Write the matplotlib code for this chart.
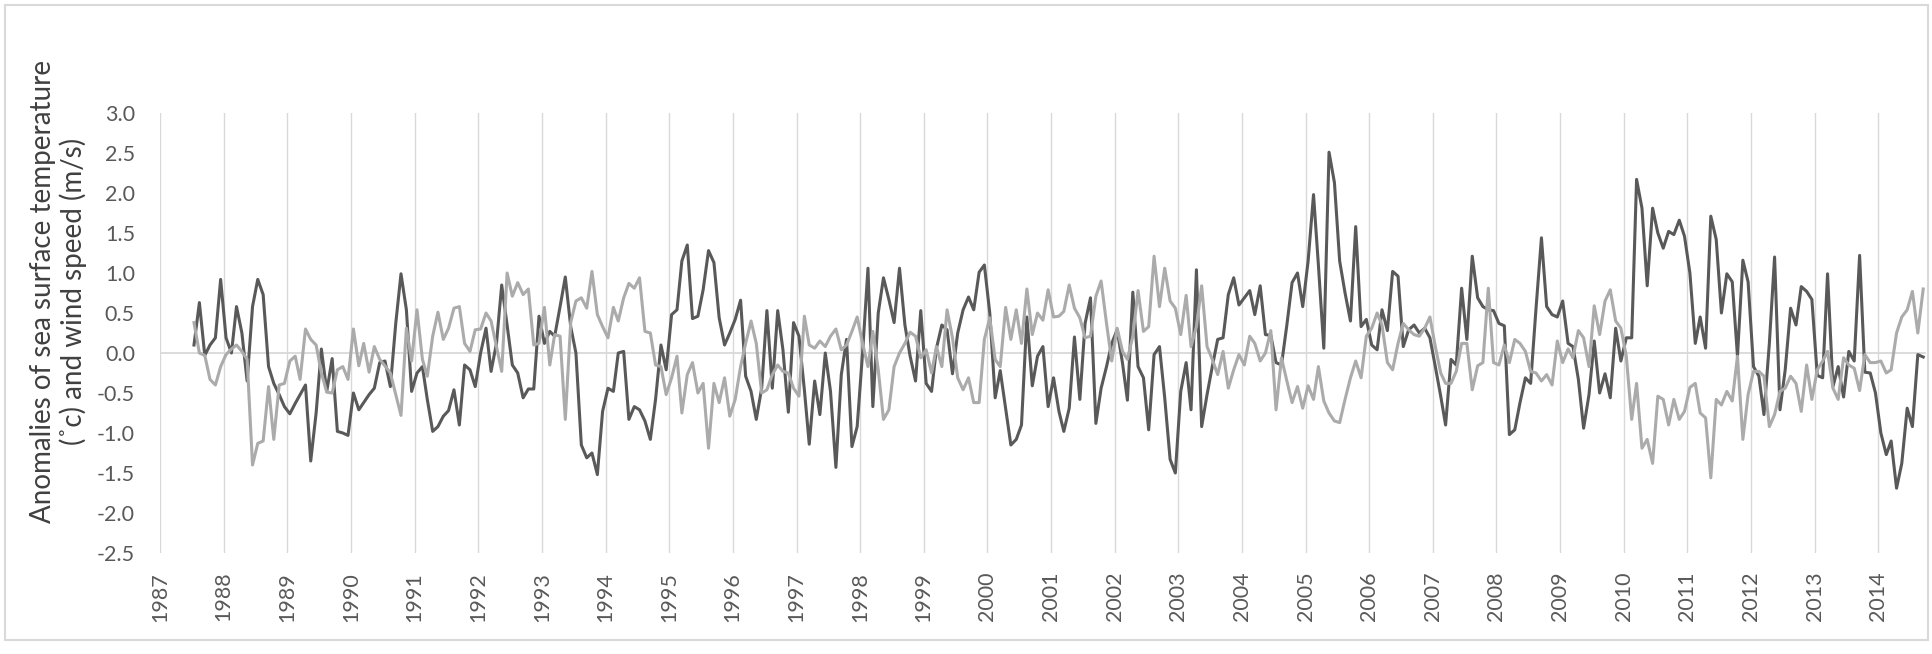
import pandas as pd
import matplotlib
matplotlib.use("Agg")
import matplotlib.pyplot as plt
import matplotlib.dates as mdates
from datetime import datetime

plt.rcParams['font.family'] = ['Lato', 'DejaVu Sans']

# monthly anomalies, Jul 1987 - Sep 2014
sst = [
    0.10, 0.63, -0.03, 0.10, 0.19, 0.92, 0.19, 0.00, 0.58, 0.25,
    -0.35, 0.58, 0.92, 0.73, -0.17, -0.38, -0.52, -0.67, -0.76, -0.63,
    -0.52, -0.40, -1.35, -0.75, 0.05, -0.48, -0.07, -0.98, -1.00, -1.03,
    -0.50, -0.71, -0.62, -0.52, -0.44, -0.12, -0.10, -0.42, 0.37, 0.99,
    0.54, -0.48, -0.25, -0.17, -0.58, -0.98, -0.92, -0.79, -0.72, -0.46,
    -0.90, -0.15, -0.21, -0.42, 0.00, 0.31, -0.23, 0.12, 0.85, 0.35,
    -0.15, -0.25, -0.56, -0.45, -0.45, 0.46, 0.12, 0.27, 0.21, 0.58,
    0.95, 0.33, 0.00, -1.15, -1.31, -1.25, -1.52, -0.73, -0.44, -0.48,
    0.00, 0.02, -0.83, -0.67, -0.71, -0.85, -1.08, -0.58, 0.10, -0.21,
    0.48, 0.54, 1.15, 1.35, 0.43, 0.46, 0.79, 1.28, 1.13, 0.44,
    0.10, 0.25, 0.42, 0.66, -0.29, -0.48, -0.83, -0.44, 0.53, -0.44,
    0.53, 0.04, -0.74, 0.38, 0.21, -0.46, -1.14, -0.35, -0.77, 0.00,
    -0.48, -1.43, -0.27, 0.17, -1.17, -0.92, 0.00, 1.06, -0.67, 0.50,
    0.94, 0.67, 0.38, 1.06, 0.35, -0.04, -0.35, 0.53, -0.38, -0.48,
    0.06, 0.35, 0.29, -0.26, 0.25, 0.54, 0.70, 0.54, 1.01, 1.10,
    0.50, -0.56, -0.22, -0.69, -1.15, -1.08, -0.90, 0.45, -0.41, -0.04,
    0.08, -0.67, -0.31, -0.73, -0.98, -0.69, 0.20, -0.58, 0.37, 0.69,
    -0.88, -0.44, -0.17, 0.12, 0.29, -0.13, -0.59, 0.76, -0.17, -0.31,
    -0.96, -0.02, 0.08, -0.56, -1.33, -1.50, -0.48, -0.12, -0.71, 1.04,
    -0.92, -0.52, -0.17, 0.17, 0.19, 0.73, 0.94, 0.60, 0.69, 0.78,
    0.48, 0.84, 0.23, 0.22, -0.12, -0.15, 0.35, 0.88, 1.00, 0.58,
    1.15, 1.98, 1.10, 0.06, 2.51, 2.13, 1.15, 0.75, 0.40, 1.58,
    0.33, 0.42, 0.10, 0.04, 0.54, 0.28, 1.02, 0.96, 0.08, 0.29,
    0.35, 0.25, 0.31, 0.19, -0.17, -0.54, -0.90, -0.08, -0.15, 0.81,
    0.17, 1.21, 0.69, 0.58, 0.54, 0.53, 0.37, 0.34, -1.02, -0.96,
    -0.62, -0.31, -0.38, 0.56, 1.44, 0.58, 0.48, 0.45, 0.65, 0.12,
    0.08, -0.33, -0.94, -0.52, 0.15, -0.50, -0.26, -0.56, 0.31, -0.10,
    0.19, 0.19, 2.17, 1.81, 0.84, 1.81, 1.50, 1.31, 1.52, 1.48,
    1.66, 1.46, 1.00, 0.12, 0.45, 0.06, 1.71, 1.42, 0.50, 0.99,
    0.89, -0.04, 1.16, 0.89, -0.17, -0.29, -0.77, 0.12, 1.20, -0.71,
    -0.21, 0.56, 0.35, 0.83, 0.77, 0.67, -0.28, -0.31, 0.99, -0.42,
    -0.17, -0.55, 0.02, -0.10, 1.22, -0.24, -0.25, -0.50, -1.00, -1.27,
    -1.10, -1.69, -1.38, -0.69, -0.92, -0.02, -0.05,
]

wind = [
    0.38, 0.00, -0.03, -0.33, -0.40, -0.17, -0.02, 0.05, 0.10, 0.02,
    -0.08, -1.40, -1.13, -1.10, -0.42, -1.08, -0.40, -0.38, -0.10, -0.04,
    -0.33, 0.30, 0.17, 0.10, -0.25, -0.49, -0.50, -0.21, -0.17, -0.33,
    0.30, -0.16, 0.12, -0.24, 0.08, -0.08, -0.16, -0.25, -0.52, -0.78,
    0.31, -0.10, 0.54, -0.08, -0.29, 0.21, 0.51, 0.17, 0.31, 0.56,
    0.58, 0.12, 0.02, 0.29, 0.30, 0.50, 0.40, 0.08, -0.23, 1.00,
    0.71, 0.88, 0.73, 0.80, 0.10, 0.12, 0.57, -0.15, 0.23, 0.21,
    -0.83, 0.38, 0.65, 0.69, 0.56, 1.02, 0.48, 0.33, 0.19, 0.57,
    0.40, 0.69, 0.87, 0.81, 0.94, 0.27, 0.25, -0.15, -0.17, -0.52,
    -0.31, -0.04, -0.75, -0.27, -0.12, -0.50, -0.38, -1.19, -0.38, -0.62,
    -0.31, -0.79, -0.58, -0.17, 0.12, 0.40, 0.12, -0.50, -0.46, -0.27,
    -0.15, -0.23, -0.25, -0.44, -0.54, 0.46, 0.10, 0.06, 0.15, 0.08,
    0.21, 0.30, 0.04, 0.10, 0.27, 0.45, 0.12, -0.17, 0.27, -0.21,
    -0.83, -0.71, -0.17, 0.00, 0.12, 0.26, 0.21, -0.06, 0.04, -0.25,
    0.08, -0.17, 0.54, 0.19, -0.31, -0.46, -0.31, -0.62, -0.62, 0.17,
    0.44, -0.08, -0.17, 0.57, 0.17, 0.54, 0.12, 0.80, 0.23, 0.50,
    0.41, 0.79, 0.45, 0.46, 0.52, 0.85, 0.56, 0.44, 0.19, 0.21,
    0.71, 0.90, 0.37, -0.10, 0.31, 0.02, -0.08, 0.21, 0.78, 0.27,
    0.33, 1.21, 0.58, 1.06, 0.65, 0.56, 0.23, 0.72, 0.08, 0.33,
    0.84, 0.08, -0.08, -0.27, 0.02, -0.44, -0.21, -0.02, -0.15, 0.21,
    0.12, -0.10, 0.00, 0.28, -0.71, -0.06, -0.35, -0.62, -0.42, -0.69,
    -0.41, -0.58, -0.17, -0.60, -0.75, -0.85, -0.87, -0.58, -0.31, -0.10,
    -0.31, 0.21, 0.31, 0.50, 0.35, -0.12, -0.21, 0.12, 0.37, 0.29,
    0.23, 0.21, 0.31, 0.45, 0.08, -0.25, -0.38, -0.38, -0.23, 0.12,
    0.12, -0.46, -0.16, -0.12, 0.81, -0.12, -0.15, 0.10, -0.12, 0.17,
    0.12, 0.02, -0.23, -0.25, -0.35, -0.27, -0.40, 0.15, -0.12, 0.05,
    -0.06, 0.28, 0.19, -0.17, 0.59, 0.23, 0.65, 0.79, 0.40, 0.31,
    -0.04, -0.83, -0.38, -1.19, -1.08, -1.38, -0.54, -0.58, -0.90, -0.58,
    -0.83, -0.73, -0.43, -0.38, -0.75, -0.81, -1.56, -0.58, -0.65, -0.48,
    -0.60, -0.04, -1.08, -0.52, -0.23, -0.23, -0.29, -0.92, -0.77, -0.48,
    -0.44, -0.29, -0.38, -0.73, -0.15, -0.58, -0.21, -0.10, 0.02, -0.44,
    -0.58, -0.06, -0.15, -0.19, -0.47, -0.02, -0.12, -0.12, -0.10, -0.25,
    -0.21, 0.25, 0.45, 0.54, 0.77, 0.25, 0.80,
]

months = pd.date_range("1987-07-01", periods=len(sst), freq="MS") + pd.Timedelta(days=14)
y_ticks = [-2.5, -2.0, -1.5, -1.0, -0.5, 0.0, 0.5, 1.0, 1.5, 2.0, 2.5, 3.0]

W, H = 1933, 654
fig = plt.figure(figsize=(W / 100, H / 100), dpi=100)
ax = fig.add_axes([160 / W, (H - 553) / H, 1766 / W, 440 / H])

ax.plot(months, sst, color="#595959", lw=2.2, zorder=3)
ax.plot(months, wind, color="#ababab", lw=2.2, zorder=4)

ax.set_xlim(datetime(1987, 1, 1), datetime(2014, 10, 1))
ax.set_ylim(-2.5, 3.0)
ax.set_yticks(y_ticks)
ax.set_yticklabels([f"{v:.1f}" for v in y_ticks])
ax.xaxis.set_major_locator(mdates.YearLocator())
ax.xaxis.set_major_formatter(mdates.DateFormatter("%Y"))

ax.axhline(0, color="#d9d9d9", lw=1.3, zorder=2)
ax.grid(axis="x", color="#d9d9d9", lw=1.0, zorder=1)
for s in ax.spines.values():
    s.set_visible(False)
ax.tick_params(axis="both", length=0, colors="#595959", labelsize=15.5)
ax.tick_params(axis="x", pad=13.5, labelrotation=90)
ax.tick_params(axis="y", pad=18)

fig.text(58.5 / W, (H - 291) / H,
         "Anomalies of sea surface temperature\n(˚c) and wind speed (m/s)",
         rotation=90, ha="center", va="center", multialignment="center",
         fontsize=20, color="#404040", linespacing=1.15)

# chart area border
fig.patches.append(plt.Rectangle((5 / W, 14 / H), 1923 / W, 635 / H,
                                 transform=fig.transFigure, fill=False,
                                 edgecolor="#d9d9d9", lw=1.5))

fig.savefig("out.png", dpi=100)
